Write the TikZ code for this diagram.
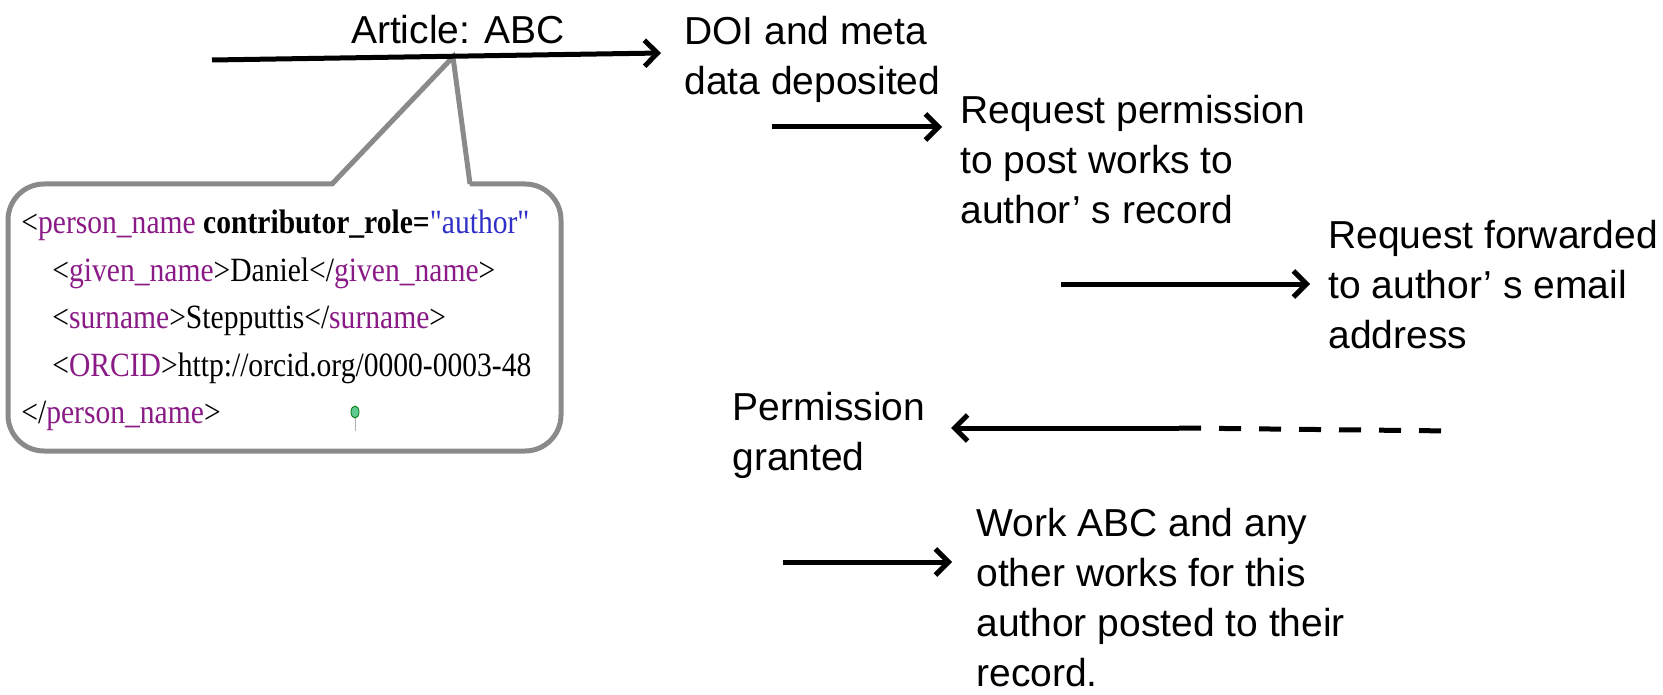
\documentclass[tikz,border=0pt]{standalone}
\usepackage{fontspec}
\setmainfont{Liberation Sans}
\newfontfamily\xmlfont[FakeStretch=0.87]{Liberation Serif}
\usepackage{xcolor}
\usetikzlibrary{arrows.meta, positioning}

\definecolor{tagpurple}{HTML}{8A1A86}
\definecolor{valblue}{HTML}{3030C8}
\definecolor{boxgray}{HTML}{8A8A8A}
\definecolor{pingreen}{HTML}{5FCB93}
\newcommand{\tagname}[1]{\textcolor{tagpurple}{#1}}

\begin{document}
\begin{tikzpicture}[x=0.5pt, y=-0.5pt,
flow/.style={line width=2.5pt, -{Straight Barb[length=6.5pt, width=13pt]}},
label/.style={anchor=north west, align=left, inner sep=0pt, font=\fontsize{19.5}{25}\selectfont},
callout/.style={draw=boxgray, line width=2.5pt},
xml/.style={anchor=north west, align=left, inner sep=0pt, font=\xmlfont\fontsize{17}{23.75}\selectfont}]

\useasboundingbox (0,0) rectangle (1663,695);

\node[callout, rounded corners=18pt, minimum width=276.5pt, minimum height=133.5pt] (xmlbox) at (284.5,317.5) {};

\coordinate (tip) at (453,57);
\coordinate (pl) at (332,184);
\coordinate (pr) at (470,184);
\fill[white] ([yshift=-2pt]pl) -- (tip) -- ([yshift=-2pt]pr) -- cycle;
\draw[callout, line join=miter] (pl) -- (tip) -- (pr);

\node[xml] (xmltext) at (21,210) {<\tagname{person\_name} \textbf{contributor\_role=}\textcolor{valblue}{"author"}\\
\hspace*{15.5pt}<\tagname{given\_name}>Daniel</\tagname{given\_name}>\\
\hspace*{15.5pt}<\tagname{surname}>Stepputtis</\tagname{surname}>\\
\hspace*{15.5pt}<\tagname{ORCID}>http://orcid.org/0000-0003-48\\
</\tagname{person\_name}>};

\draw[gray!60, line width=0.4pt] (355,417) -- (355,431);
\filldraw[draw=green!45!black, fill=pingreen, line width=0.4pt] (355,412) ellipse [x radius=2pt, y radius=3pt];

\node[label, anchor=north] (article) at (458,15) {Article: ABC};
\node[label] (doi) at (684,16) {DOI and meta\\data deposited};
\node[label] (request) at (960,95) {Request permission\\to post works to\\author’ s record};
\node[label] (forward) at (1328,220) {Request forwarded\\to author’ s email\\address};
\node[label] (granted) at (732,392) {Permission\\granted};
\node[label] (posted) at (976,508) {Work ABC and any\\other works for this\\author posted to their\\record.};

\coordinate (depstart) at (212,60);
\coordinate (depend) at (661,53);
\coordinate (reqstart) at (772,127);
\coordinate (reqend) at (942,127);
\coordinate (fwdstart) at (1061,284);
\coordinate (fwdend) at (1310,284);
\coordinate (grantstart) at (1179,428);
\coordinate (grantend) at (951,428);
\coordinate (grantfar) at (1453,431);
\coordinate (poststart) at (783,562);
\coordinate (postend) at (952,562);

\path[flow]
 (depstart) edge (depend)
 (reqstart) edge (reqend)
 (fwdstart) edge (fwdend)
 (grantstart) edge (grantend)
 (poststart) edge (postend);

\draw[line width=2.5pt, dash pattern=on 11pt off 9pt] (grantstart) -- (grantfar);

\end{tikzpicture}
\end{document}
